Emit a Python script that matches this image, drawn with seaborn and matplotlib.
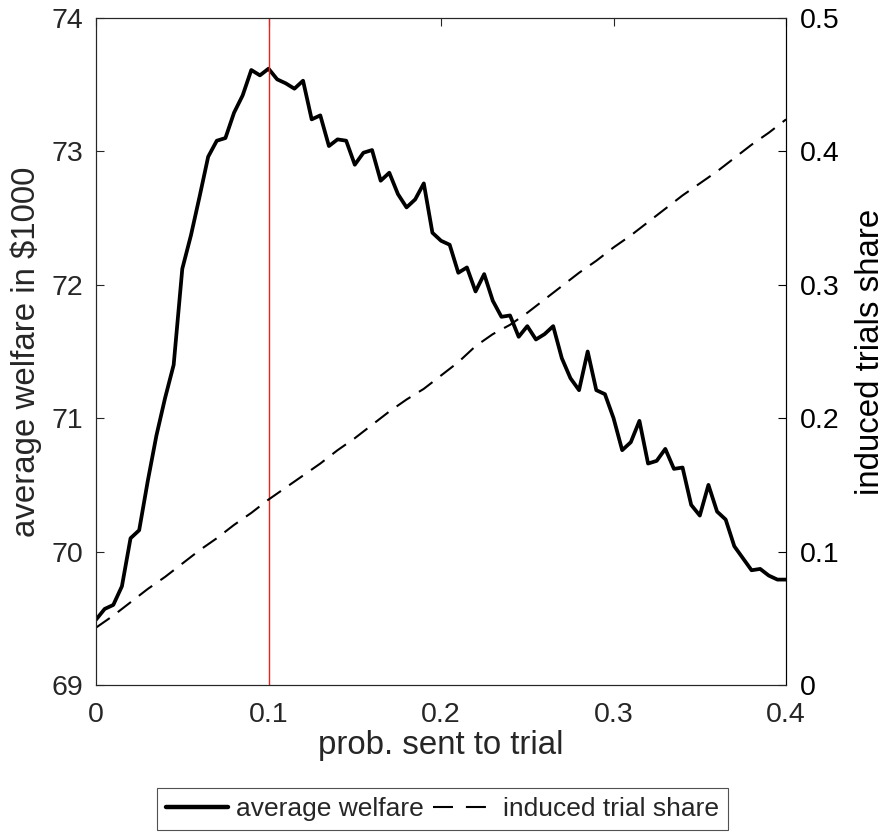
import numpy as np
import pandas as pd
import matplotlib
matplotlib.use("Agg")
import matplotlib.pyplot as plt
import seaborn as sns
from matplotlib.lines import Line2D

# ---- data ----
prob_welfare = [round(0.005 * i, 3) for i in range(81)]
welfare = [69.49, 69.57, 69.60, 69.74, 70.10, 70.16, 70.53, 70.87, 71.15, 71.40,
           72.12, 72.37, 72.66, 72.96, 73.08, 73.10, 73.29, 73.42, 73.61, 73.57,
           73.62, 73.54, 73.51, 73.47, 73.53, 73.24, 73.27, 73.04, 73.09, 73.08,
           72.90, 72.99, 73.01, 72.78, 72.84, 72.68, 72.58, 72.64, 72.76, 72.39,
           72.33, 72.30, 72.09, 72.13, 71.95, 72.08, 71.88, 71.76, 71.77, 71.61,
           71.69, 71.59, 71.63, 71.69, 71.45, 71.30, 71.21, 71.50, 71.21, 71.18,
           71.00, 70.76, 70.82, 70.98, 70.66, 70.68, 70.77, 70.62, 70.63, 70.35,
           70.27, 70.50, 70.30, 70.24, 70.04, 69.95, 69.86, 69.87, 69.82, 69.79,
           69.79]

prob_share = [round(0.01 * i, 2) for i in range(41)]
trial_share = [0.043, 0.052, 0.062, 0.072, 0.081, 0.091, 0.101, 0.110, 0.120, 0.129,
               0.139, 0.148, 0.157, 0.166, 0.176, 0.185, 0.195, 0.205, 0.214, 0.222,
               0.232, 0.242, 0.254, 0.263, 0.270, 0.279, 0.289, 0.299, 0.309, 0.318,
               0.328, 0.337, 0.347, 0.357, 0.367, 0.376, 0.385, 0.395, 0.405, 0.414,
               0.424]

left_ticks = [69, 70, 71, 72, 73, 74]
right_ticks = [0, 0.1, 0.2, 0.3, 0.4, 0.5]
x_ticks = [0, 0.1, 0.2, 0.3, 0.4]
vline_x = 0.1

df_w = pd.DataFrame({"prob": prob_welfare, "welfare": welfare})
df_s = pd.DataFrame({"prob": prob_share, "share": trial_share})

sns.set_style("white")
plt.rcParams["font.family"] = ["Liberation Sans", "DejaVu Sans"]
TICK_FS = 20.5
LABEL_FS = 23.8
LEG_FS = 19

fig = plt.figure(figsize=(8.86, 8.33), dpi=100)
ax = fig.add_axes([0.1084, 0.1777, 0.7788, 0.8007])
ax2 = ax.twinx()

sns.lineplot(data=df_w, x="prob", y="welfare", ax=ax, color="black", lw=2.7)
ax.axvline(vline_x, color="#e8231f", lw=1.0)
sns.lineplot(data=df_s, x="prob", y="share", ax=ax2, color="black", lw=1.5,
             linestyle=(0, (8.0, 4.8)))

ax.set_xlim(0, 0.4)
ax.set_ylim(69, 74)
ax2.set_ylim(0, 0.5)
ax.set_xticks(x_ticks)
ax.set_xticklabels(["0", "0.1", "0.2", "0.3", "0.4"])
ax.set_yticks(left_ticks)
ax2.set_yticks(right_ticks)
ax2.set_yticklabels(["0", "0.1", "0.2", "0.3", "0.4", "0.5"])

ax.set_xlabel("prob. sent to trial", fontsize=LABEL_FS, color="#262626", labelpad=2)
ax.set_ylabel("average welfare in $1000", fontsize=LABEL_FS, color="#262626", labelpad=7)
ax2.set_ylabel("induced trials share", fontsize=LABEL_FS, color="#000000", labelpad=11)

for a in (ax, ax2):
    a.tick_params(direction="in", length=6, width=0.8, labelsize=TICK_FS,
                  colors="#262626", pad=9)
    for s in a.spines.values():
        s.set_color("#262626")
        s.set_linewidth(0.8)
ax.tick_params(axis="x", top=True, pad=12)
ax2.tick_params(axis="y", colors="black", pad=10)
ax2.spines["right"].set_color("black")
ax.grid(False)
ax2.grid(False)
if ax.get_legend():
    ax.get_legend().remove()
if ax2.get_legend():
    ax2.get_legend().remove()

handles = [Line2D([], [], color="black", lw=3.2),
           Line2D([], [], color="black", lw=1.5, linestyle=(0, (9.6, 6.2)))]
leg = fig.legend(handles, ["average welfare", "induced trial share"],
                 loc="upper center", bbox_to_anchor=(0.4994, 0.0540),
                 ncol=2, fontsize=LEG_FS, frameon=True, fancybox=False,
                 handlelength=2.35, handletextpad=0.3, columnspacing=0.35,
                 borderpad=0.35, borderaxespad=0)
leg.get_frame().set_edgecolor("#262626")
leg.get_frame().set_linewidth(0.8)

fig.savefig("out.png", dpi=100)
